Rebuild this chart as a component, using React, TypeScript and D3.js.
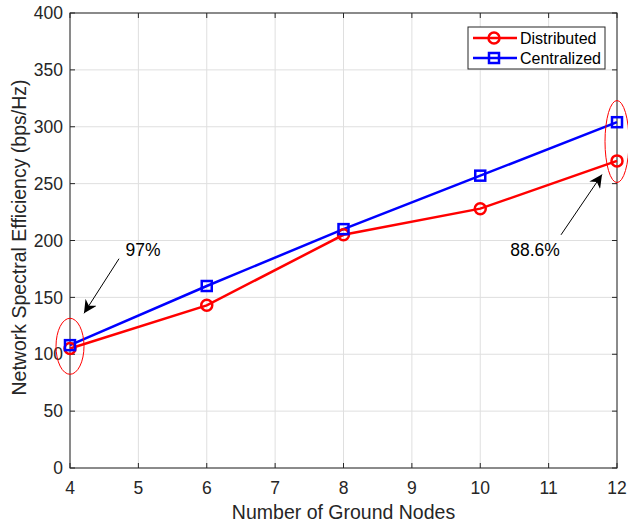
import * as d3 from "d3";

const nodes = [4, 6, 8, 10, 12];
const distributed = [105, 143, 205, 228, 270];
const centralized = [108, 160, 210, 257, 304];
const xTicks = [4, 5, 6, 7, 8, 9, 10, 11, 12];
const yTicks = [0, 50, 100, 150, 200, 250, 300, 350, 400];

const W = 628;
const H = 525;
const margin = { top: 13, right: 11, bottom: 57, left: 70 };
const FONT = "'Liberation Sans', Arial, sans-serif";

const App = () => {
  const iw = W - margin.left - margin.right;
  const ih = H - margin.top - margin.bottom;
  const x = d3.scaleLinear().domain([4, 12]).range([0, iw]);
  const y = d3.scaleLinear().domain([0, 400]).range([ih, 0]);
  const line = d3
    .line<number>()
    .x((_, i) => x(nodes[i]))
    .y((d) => y(d));

  return (
    <svg
      width={W}
      height={H}
      style={{ position: "absolute", left: 0, top: 0, background: "#fff" }}
      fontFamily={FONT}
    >
      <defs>
        <marker id="ah" viewBox="0 0 10 10" refX="10" refY="5" markerWidth="13" markerHeight="13" orient="auto" markerUnits="userSpaceOnUse">
          <path d="M0,0 L10,5 L0,10 L3,5 Z" fill="#000" />
        </marker>
      </defs>
      <g transform={`translate(${margin.left},${margin.top})`}>
        {/* grid */}
        {xTicks.map((t) => (
          <line key={"gx" + t} x1={x(t)} x2={x(t)} y1={0} y2={ih} stroke="#dfdfdf" strokeWidth={1} />
        ))}
        {yTicks.map((t) => (
          <line key={"gy" + t} x1={0} x2={iw} y1={y(t)} y2={y(t)} stroke="#dfdfdf" strokeWidth={1} />
        ))}
        {/* box */}
        <rect x={0} y={0} width={iw} height={ih} fill="none" stroke="#262626" strokeWidth={1} />
        {/* ticks */}
        {xTicks.map((t) => (
          <g key={"tx" + t}>
            <line x1={x(t)} x2={x(t)} y1={ih} y2={ih - 5} stroke="#262626" />
            <line x1={x(t)} x2={x(t)} y1={0} y2={5} stroke="#262626" />
            <text x={x(t)} y={ih + 26} textAnchor="middle" fontSize={17.5} fill="#262626">
              {t}
            </text>
          </g>
        ))}
        {yTicks.map((t) => (
          <g key={"ty" + t}>
            <line x1={0} x2={5} y1={y(t)} y2={y(t)} stroke="#262626" />
            <line x1={iw} x2={iw - 5} y1={y(t)} y2={y(t)} stroke="#262626" />
            <text x={-7} y={y(t)} dy="0.35em" textAnchor="end" fontSize={17.5} fill="#262626">
              {t}
            </text>
          </g>
        ))}
        {/* series */}
        <path d={line(distributed) || ""} fill="none" stroke="#ff0000" strokeWidth={2.5} />
        <path d={line(centralized) || ""} fill="none" stroke="#0000ff" strokeWidth={2.5} />
        {distributed.map((v, i) => (
          <circle key={"d" + i} cx={x(nodes[i])} cy={y(v)} r={5.5} fill="none" stroke="#ff0000" strokeWidth={2.5} />
        ))}
        {centralized.map((v, i) => (
          <rect key={"c" + i} x={x(nodes[i]) - 5} y={y(v) - 5} width={10} height={10} fill="none" stroke="#0000ff" strokeWidth={2.5} />
        ))}
        {/* annotations */}
        <ellipse cx={x(4)} cy={y(107)} rx={14} ry={28} fill="none" stroke="#ff0000" strokeWidth={1} />
        <ellipse cx={x(12)} cy={y(287)} rx={12} ry={41} fill="none" stroke="#ff0000" strokeWidth={1} />
        <line x1={x(4) + 49} y1={y(184)} x2={x(4) + 14} y2={y(136)} stroke="#000" strokeWidth={1} markerEnd="url(#ah)" />
        <text x={x(4) + 73} y={y(186)} textAnchor="middle" fontSize={17.5} fill="#000">97%</text>
        <line x1={x(12) - 56} y1={y(205)} x2={x(12) - 15} y2={y(258)} stroke="#000" strokeWidth={1} markerEnd="url(#ah)" />
        <text x={x(12) - 82} y={y(186)} textAnchor="middle" fontSize={17.5} fill="#000">88.6%</text>
        {/* legend */}
        <g transform={`translate(${468 - margin.left},${27 - margin.top})`}>
          <rect x={0} y={0} width={137} height={42} fill="#fff" stroke="#262626" strokeWidth={1} />
          <line x1={5} x2={49} y1={11} y2={11} stroke="#ff0000" strokeWidth={2.5} />
          <circle cx={26} cy={11} r={5.5} fill="none" stroke="#ff0000" strokeWidth={2.5} />
          <text x={52} y={11} dy="0.35em" fontSize={16} fill="#000">Distributed</text>
          <line x1={5} x2={49} y1={31} y2={31} stroke="#0000ff" strokeWidth={2.5} />
          <rect x={21} y={26} width={10} height={10} fill="none" stroke="#0000ff" strokeWidth={2.5} />
          <text x={52} y={31} dy="0.35em" fontSize={16} fill="#000">Centralized</text>
        </g>
        {/* axis labels */}
        <text x={iw / 2} y={ih + 51} textAnchor="middle" fontSize={19.5} fill="#262626">
          Number of Ground Nodes
        </text>
        <text
          transform={`translate(${-44},${ih / 2 - 3}) rotate(-90)`}
          textAnchor="middle"
          fontSize={19.5}
          fill="#262626"
        >
          Network Spectral Efficiency (bps/Hz)
        </text>
      </g>
    </svg>
  );
};

export default App;
